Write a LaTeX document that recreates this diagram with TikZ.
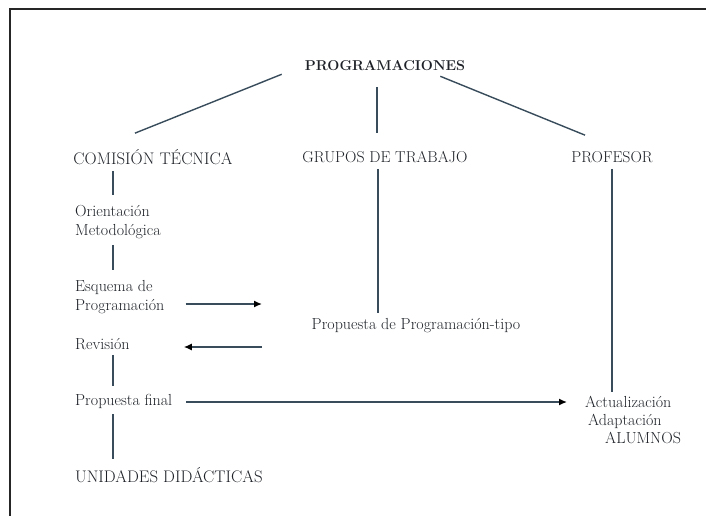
\documentclass[tikz,border=0pt]{standalone}
\usepackage{tikz}
\usetikzlibrary{arrows.meta}
\definecolor{trazo}{RGB}{56,76,92}
\definecolor{letra}{RGB}{30,34,40}

\begin{document}
\begin{tikzpicture}[x=1pt,y=-1pt,
    texto/.style={inner sep=2pt,text=letra,font=\fontsize{16}{19}\selectfont},
    mayus/.style={texto,font=\fontsize{16.8}{19}\selectfont},
    izq/.style={texto,anchor=west,align=left},
    tramo/.style={draw=trazo,line width=1.4pt},
    flecha/.style={tramo,-{Latex[length=8pt,width=7pt,color=black]}}]
    %initialisation
    \useasboundingbox (0,0) rectangle (706,516);
    \draw[line width=1.8pt,black!85] (10,516) -- (10,9) -- (706,9);
    %definitions
    \node[texto,font=\fontsize{14.3}{16}\selectfont\bfseries] (prog) at (385,66) {PROGRAMACIONES};
    \node[mayus] (com) at (153,157) {COMISIÓN TÉCNICA};
    \node[mayus,font=\fontsize{15.8}{19}\selectfont] (grupos) at (385,157) {GRUPOS DE TRABAJO};
    \node[mayus,font=\fontsize{15.8}{19}\selectfont] (prof) at (612,157) {PROFESOR};
    \node[izq] (ori) at (73,222) {Orientación\\Metodológica};
    \node[izq] (esq) at (73,297) {Esquema de\\Programación};
    \node[izq] (rev) at (73,344) {Revisión};
    \node[izq] (fin) at (73,401) {Propuesta final};
    \node[mayus,anchor=west] (uni) at (73,475) {UNIDADES DIDÁCTICAS};
    \node[texto] (tipo) at (416,326) {Propuesta de Programación-tipo};
    \node[izq,font=\fontsize{16}{17.8}\selectfont] (act) at (583,420)
        {Actualización\\\hspace*{3pt}Adaptación\\\hspace*{20pt}ALUMNOS};
    \coordinate (eje) at (113,0);
    \coordinate (haciaGrupo) at (262,304);
    \coordinate (desdeGrupo) at (262,347);
    %drawing
    \draw[tramo] ([xshift=-21pt,yshift=-1pt]prog.south west) -- ([xshift=-18pt,yshift=14pt]com.north);
    \draw[tramo] ([xshift=-8pt,yshift=-14pt]prog.south) -- ([xshift=-8pt,yshift=16pt]grupos.north);
    \draw[tramo] ([xshift=-27pt,yshift=-3pt]prog.south east) -- ([xshift=-27pt,yshift=14pt]prof.north);
    \draw[tramo,shorten <=4pt,shorten >=8pt] (com.south -| eje) -- (ori.north -| eje);
    \draw[tramo,shorten <=4pt,shorten >=8pt] (ori.south -| eje) -- (esq.north -| eje);
    \draw[tramo,shorten <=3pt,shorten >=6pt] (rev.south -| eje) -- (fin.north -| eje);
    \draw[tramo,shorten <=4pt,shorten >=6pt] (fin.south -| eje) -- (uni.north -| eje);
    \draw[tramo,shorten <=4pt,shorten >=4pt] ([xshift=-7pt]grupos.south) -- ([xshift=-7pt]grupos.south |- tipo.north);
    \draw[tramo,shorten <=4pt,shorten >=2pt] (prof.south) -- (prof.south |- act.north);
    \draw[flecha,shorten <=19pt] (esq.east |- haciaGrupo) -- (haciaGrupo);
    \draw[flecha,shorten >=52pt] (desdeGrupo) -- (rev.east |- desdeGrupo);
    \draw[flecha,shorten <=12pt,shorten >=16pt] ([yshift=-1pt]fin.east) -- ([yshift=-1pt]fin.east -| act.west);
\end{tikzpicture}
\end{document}
